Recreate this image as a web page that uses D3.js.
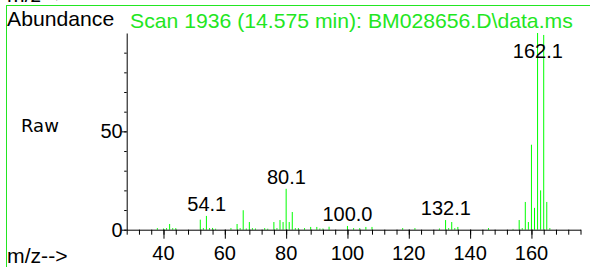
<!DOCTYPE html>
<html><head><meta charset="utf-8">
<script src="https://cdn.jsdelivr.net/npm/d3@7"></script>
<style>html,body{margin:0;padding:0;background:#fff;overflow:hidden}svg{display:block}</style>
</head><body>
<script>
const title = "Scan 1936 (14.575 min): BM028656.D\\data.ms";
const mz = [38,40,41,42,43,44,52,53,54,55,56,57,62,64,65,66,67,68,69,70,73,74,76,77,78,79,80,81,82,83,84,86,88,90,91,92,94,100,102,104,106,108,118,122,130,132,133,134,135,136,146,154,156,157,158,159,160,161,162,163,164,165,166];
const abundance = [0.8,0.6,0.8,2.9,0.8,0.8,5.1,0.8,7.0,0.8,0.9,0.5,0.8,2.9,0.8,9.9,0.6,3.9,0.8,0.6,0.8,0.5,3.9,0.8,4.9,3.9,20.8,3.9,9.0,0.8,0.8,0.8,1.4,1.4,0.6,0.6,1.5,1.9,0.8,0.8,1.4,1.4,0.8,0.8,0.6,4.9,0.8,3.9,0.8,1.4,0.8,0.4,4.9,0.8,14.1,3.9,43.2,11.1,100,20.0,99,14.1,0.8];
const peakLabels = ["54.1","80.1","100.0","132.1","162.1"];
const xMajorTicks = [40,60,80,100,120,140,160];
const yMajorTicks = [0,50];

const W = 590, H = 267;
const green = "#22e622";
const svg = d3.select("body").append("svg").attr("width", W).attr("height", H);

const x = d3.scaleLinear().domain([28,176]).range([126.7,580.5]);
const y = d3.scaleLinear().domain([0,100]).range([229.7,33]);

const font = "'Liberation Sans', Arial, sans-serif";
function stretchedText(tx, ty, str, opts={}) {
  return svg.append("text")
    .attr("transform", `translate(${tx},${ty}) scale(${opts.sx||1.06},1)`)
    .attr("font-family", opts.family || font)
    .attr("font-size", opts.size || 20)
    .attr("fill", opts.fill || "#000")
    .attr("text-anchor", opts.anchor || "start")
    .text(str);
}

// frame
svg.append("line").attr("x1",7).attr("x2",W).attr("y1",5.5).attr("y2",5.5).attr("stroke",green).attr("stroke-width",1);
svg.append("line").attr("x1",6.5).attr("x2",6.5).attr("y1",5).attr("y2",H).attr("stroke",green).attr("stroke-width",1);

// clipped label from previous panel
stretchedText(7, 1.5, "m/z-->");

stretchedText(7, 26, "Abundance");
stretchedText(130, 27.5, title, {fill: green});
stretchedText(21, 132, "Raw", {family:"'DejaVu Sans', Verdana, sans-serif", size:18, sx:1});
stretchedText(7, 263, "m/z-->");

// bars
svg.append("g").selectAll("line").data(mz).join("line")
  .attr("x1", d => x(d)).attr("x2", d => x(d))
  .attr("y1", y(0)).attr("y2", (d,i) => y(abundance[i]))
  .attr("stroke", "#00ff00").attr("stroke-width", 1);

// x axis
const xMinor = d3.range(28, 177, 4);
const gx = svg.append("g").attr("transform", `translate(0,${y(0)})`);
gx.call(d3.axisBottom(x).tickValues(xMinor).tickSize(5).tickSizeOuter(0).tickFormat(""));
gx.call(g => g.append("g").call(d3.axisBottom(x).tickValues(xMajorTicks).tickSize(9).tickSizeOuter(0).tickFormat("")).select(".domain").remove());
gx.selectAll("path,line").attr("stroke","#000").attr("stroke-width",1);
xMajorTicks.forEach(t => stretchedText(x(t), 260, String(t), {anchor:"middle", sx:1}));

// y axis
const gy = svg.append("g").attr("transform", `translate(${x(28)},0)`);
gy.call(d3.axisLeft(y).tickValues(d3.range(0,100,10)).tickSize(2.5).tickSizeOuter(0).tickFormat(""));
gy.call(g => g.append("g").call(d3.axisLeft(y).tickValues(yMajorTicks).tickSize(5).tickSizeOuter(0).tickFormat("")).select(".domain").remove());
gy.selectAll("path,line").attr("stroke","#000").attr("stroke-width",1);
yMajorTicks.forEach(t => stretchedText(x(28) - 4, y(t) + 7, String(t), {anchor:"end", sx:1}));

// peak labels
peakLabels.forEach(lbl => {
  const m = +lbl;
  const i = mz.indexOf(Math.round(m));
  const ty = Math.max(y(abundance[i]) - 5, 58);
  stretchedText(x(m), ty, lbl, {anchor:"middle", sx:1});
});
</script>
</body></html>
